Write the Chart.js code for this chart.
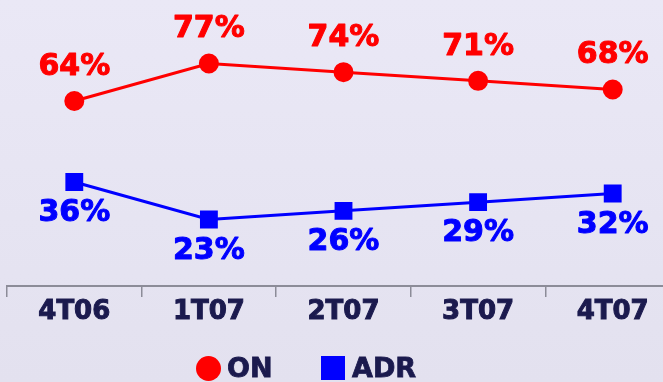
<!DOCTYPE html>
<html>
<head>
<meta charset="utf-8">
<script src="https://cdn.jsdelivr.net/npm/chart.js@4/dist/chart.umd.min.js"></script>
<style>
  html, body { margin: 0; padding: 0; }
  body {
    width: 663px; height: 382px; overflow: hidden; position: relative;
    background: linear-gradient(#eae8f6, #e3e1ef);
    font-family: "DejaVu Sans", Verdana, sans-serif;
  }
  #wrap { position: absolute; left: 0; top: -3px; width: 690px; height: 385px; }
  .legend { position: absolute; top: 353px; left: 0; height: 30px; font-weight: bold; font-size: 27px; color: #1b1a4e; -webkit-text-stroke: 0.8px #1b1a4e; }
  .legend span { position: absolute; top: 0; white-space: nowrap; line-height: 30px; }
  .dot { width: 25px; height: 25px; border-radius: 50%; background: #ff0000; margin-top: 3px; }
  .sq { width: 24px; height: 24px; background: #0000ff; margin-top: 3px; }
</style>
</head>
<body>
<div id="wrap"><canvas id="myChart" width="690" height="385"></canvas></div>
<div class="legend">
  <span class="dot" style="left:196px"></span><span style="left:227px">ON</span>
  <span class="sq" style="left:321px"></span><span style="left:352px">ADR</span>
</div>
<script>
const quarters = ['4T06', '1T07', '2T07', '3T07', '4T07'];
const onValues = [64, 77, 74, 71, 68];
const adrValues = [36, 23, 26, 29, 32];

const ctx = document.getElementById('myChart').getContext('2d');

// percent labels: ON above its points, ADR below
const pctLabels = {
    id: 'pctLabels',
    afterDatasetsDraw(chart) {
        const c = chart.ctx;
        c.save();
        c.font = 'bold 30px "DejaVu Sans", Verdana, sans-serif';
        c.textAlign = 'center';
        c.textBaseline = 'alphabetic';
        c.lineWidth = 1;
        c.lineJoin = 'round';
        chart.data.datasets.forEach((ds, i) => {
            const meta = chart.getDatasetMeta(i);
            c.fillStyle = ds.borderColor;
            c.strokeStyle = ds.borderColor;
            meta.data.forEach((pt, j) => {
                const txt = ds.data[j] + '%';
                c.fillText(txt, pt.x, pt.y + ds.labelShift);
                c.strokeText(txt, pt.x, pt.y + ds.labelShift);
            });
        });
        c.restore();
    }
};

const graph = {
    type: 'line',
    data: {
        labels: quarters,
        datasets: [{
            label: 'ON',
            data: onValues,
            borderColor: '#ff0000',
            backgroundColor: '#ff0000',
            borderWidth: 3,
            pointStyle: 'circle',
            pointRadius: 8.5,
            labelShift: -26
        }, {
            label: 'ADR',
            data: adrValues,
            borderColor: '#0000ff',
            backgroundColor: '#0000ff',
            borderWidth: 3,
            pointStyle: 'rect',
            pointRadius: 10.5,
            labelShift: 39
        }]
    },
    options: {
        responsive: false,
        animation: false,
        layout: { autoPadding: false, padding: { left: 7, right: 10, top: 0, bottom: 56 } },
        plugins: { legend: { display: false }, tooltip: { enabled: false } },
        scales: {
            x: {
                offset: true,
                grid: { offset: true, drawOnChartArea: false, tickLength: 11, color: '#8c8c98', lineWidth: 1.5 },
                border: { display: true, color: '#8c8c98', width: 2 },
                ticks: {
                    color: '#1b1a4e',
                    textStrokeColor: '#1b1a4e',
                    textStrokeWidth: 1,
                    padding: 0,
                    font: { family: '"DejaVu Sans", Verdana, sans-serif', size: 26, weight: 'bold' }
                },
                afterFit: (s) => { s.height = 40; }
            },
            y: { display: false, min: 0, max: 100 }
        }
    },
    plugins: [pctLabels]
};

const myChart = new Chart(ctx, graph);
</script>
</body>
</html>
